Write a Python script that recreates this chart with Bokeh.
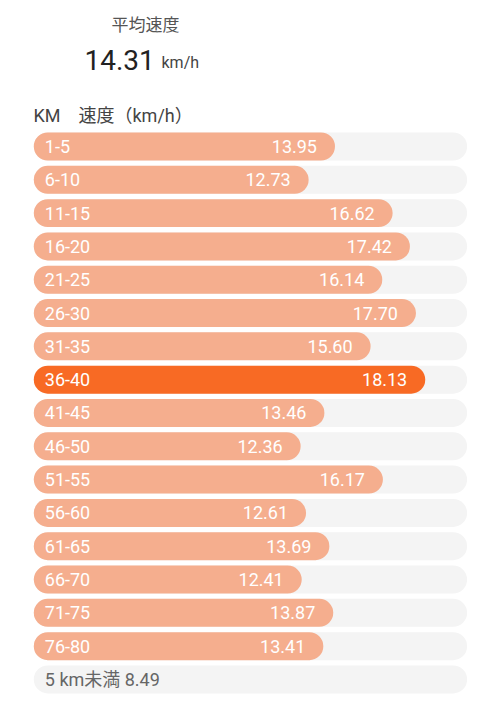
from bokeh.plotting import figure
from bokeh.models import Range1d, ColumnDataSource
from bokeh.core.properties import value
from bokeh.embed import file_html
from bokeh.resources import INLINE

# ---- data ----
segments = ["1-5", "6-10", "11-15", "16-20", "21-25", "26-30", "31-35", "36-40",
            "41-45", "46-50", "51-55", "56-60", "61-65", "66-70", "71-75", "76-80"]
speeds = [13.95, 12.73, 16.62, 17.42, 16.14, 17.70, 15.60, 18.13,
          13.46, 12.36, 16.17, 12.61, 13.69, 12.41, 13.87, 13.41]
rest_label = "5 km未満"
rest_speed = 8.49
avg_speed = 14.31
title_text = "平均速度"
unit_text = "km/h"
col_km = "KM"
col_speed = "速度（km/h）"
scale_max = 20.07

# ---- layout helpers ----
W, H = 500, 709
px_per_unit = 21.59
x0_px = 33.3
row0_px = 146.0
row_px = 33.31

def vx(px):
    return (px - x0_px) / px_per_unit

def ry(py):
    return (py - row0_px) / row_px

p = figure(width=W, height=H, output_backend="svg", toolbar_location=None,
           x_range=Range1d(vx(0), vx(W)), y_range=Range1d(ry(H), ry(0)),
           min_border=0, outline_line_color=None)
p.axis.visible = False
p.grid.visible = False
p.background_fill_color = "white"
p.border_fill_color = "white"

n = len(segments)
rows = list(range(n + 1))
best = max(speeds)
colors = ["#F86A24" if s == best else "#F5AE8E" for s in speeds]

bg = ColumnDataSource(dict(y=rows, right=[scale_max] * (n + 1)))
p.hbar(y="y", left=0, right="right", height=0.84, source=bg,
       fill_color="#F4F4F4", line_color=None, border_radius=14)

src = ColumnDataSource(dict(y=list(range(n)), right=speeds, color=colors,
                            seg=segments, val=[f"{s:.2f}" for s in speeds]))
p.hbar(y="y", left=0, right="right", height=0.84, source=src,
       fill_color="color", line_color=None, border_radius=14)

FONT = value("Roboto, Noto Sans CJK JP")
p.text(x=0, y="y", text="seg", source=src, x_offset=11,
       text_color="white", text_font=FONT, text_font_size="18px",
       text_baseline="middle", text_align="left")
p.text(x="right", y="y", text="val", source=src, x_offset=-18,
       text_color="white", text_font=FONT, text_font_size="18px",
       text_baseline="middle", text_align="right")

p.text(x=[0], y=[n], text=[f"{rest_label} {rest_speed:.2f}"], x_offset=11,
       text_color="#666666", text_font=FONT, text_font_size="18px",
       text_baseline="middle", text_align="left")

# header
p.text(x=[vx(145)], y=[ry(24)], text=[title_text], text_color="#555555",
       text_font=FONT, text_font_size="17px", text_baseline="middle", text_align="center")
p.text(x=[vx(84)], y=[ry(59)], text=[f"{avg_speed:.2f}"], text_color="#222222",
       text_font=FONT, text_font_size="28px", text_baseline="middle", text_align="left")
p.text(x=[vx(161)], y=[ry(62)], text=[unit_text], text_color="#444444",
       text_font=FONT, text_font_size="16px", text_baseline="middle", text_align="left")
p.text(x=[vx(33)], y=[ry(115)], text=[col_km], text_color="#444444",
       text_font=FONT, text_font_size="18px", text_baseline="middle", text_align="left")
p.text(x=[vx(78)], y=[ry(115)], text=[col_speed], text_color="#444444",
       text_font=FONT, text_font_size="18px", text_baseline="middle", text_align="left")

open("out.html", "w").write(file_html(p, INLINE))
